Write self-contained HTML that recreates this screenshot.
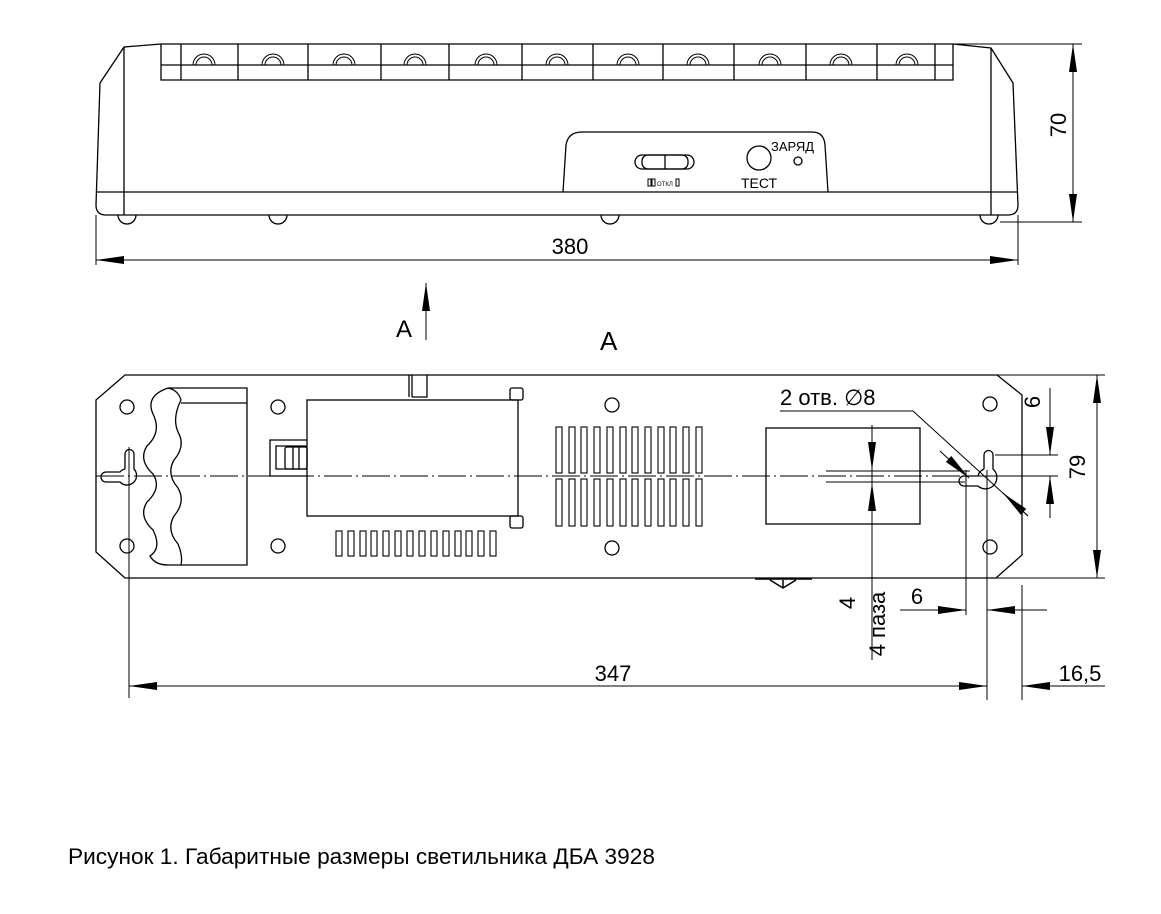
<!DOCTYPE html>
<html><head><meta charset="utf-8"><style>
html,body{margin:0;padding:0;background:#fff;}
svg{display:block;}
text{font-family:"Liberation Sans","DejaVu Sans",sans-serif;fill:#000;}
</style></head><body>
<svg width="1161" height="914" viewBox="0 0 1161 914" xmlns="http://www.w3.org/2000/svg">
<defs>
<marker id="ar" viewBox="0 0 28 8" refX="28" refY="4" markerWidth="28" markerHeight="8" markerUnits="userSpaceOnUse" orient="auto-start-reverse"><path d="M0,0 L28,4 L0,8 z" fill="#000"/></marker>
</defs>
<g fill="none" stroke="#000" stroke-width="1.3">
<!-- TOP VIEW -->
<path d="M161,44 L953,44"/>
<path d="M161,44 L161,80 L953,80 L953,44"/>
<path d="M161,65 L953,65"/>
<path d="M181,44V80 M238,44V80 M308,44V80 M381,44V80 M449,44V80 M522,44V80 M593,44V80 M663,44V80 M734,44V80 M806,44V80 M877,44V80 M935,44V80"/>
<g stroke-width="1">
<path d="M193,65A11,11 0 0 1 215,65 M196,65A8,8 0 0 1 212,65"/>
<path d="M262,65A11,11 0 0 1 284,65 M265,65A8,8 0 0 1 281,65"/>
<path d="M333,65A11,11 0 0 1 355,65 M336,65A8,8 0 0 1 352,65"/>
<path d="M404,65A11,11 0 0 1 426,65 M407,65A8,8 0 0 1 423,65"/>
<path d="M475,65A11,11 0 0 1 497,65 M478,65A8,8 0 0 1 494,65"/>
<path d="M546,65A11,11 0 0 1 568,65 M549,65A8,8 0 0 1 565,65"/>
<path d="M617,65A11,11 0 0 1 639,65 M620,65A8,8 0 0 1 636,65"/>
<path d="M687,65A11,11 0 0 1 709,65 M690,65A8,8 0 0 1 706,65"/>
<path d="M759,65A11,11 0 0 1 781,65 M762,65A8,8 0 0 1 778,65"/>
<path d="M830,65A11,11 0 0 1 852,65 M833,65A8,8 0 0 1 849,65"/>
<path d="M896,65A11,11 0 0 1 918,65 M899,65A8,8 0 0 1 915,65"/>
</g>
<path d="M161,44 L124,47 L100,83 L96,205 Q96,215 106,215 L1008,215 Q1018,215 1018,205 L1013,83 L991,48 L953,44"/>
<path d="M124,47 V215 M991,48 V215"/>
<path d="M96,192 H1018"/>
<path d="M118,215 A9,9 0 0 0 136,215 M269,215 A9,9 0 0 0 287,215 M601,215 A9,9 0 0 0 619,215 M980,215 A9,9 0 0 0 998,215"/>
<!-- control panel -->
<path d="M563,192 L566,145 Q568,132 582,132 L812,132 Q824,132 825,145 L828,192"/>
<rect x="635" y="155" width="59" height="14" rx="7"/>
<rect x="642" y="155" width="46" height="14" rx="6"/>
<path d="M665,155 V169"/>
<circle cx="759" cy="158" r="12"/>
<circle cx="798" cy="161" r="4"/>
<!-- dims top -->
<g stroke-width="1">
<path d="M950,44 H1082 M1000,222 H1082 M1018,215 V265 M96,215 V265"/>
<path d="M1073,44 V222" marker-start="url(#ar)" marker-end="url(#ar)"/>
<path d="M96,260 H1018" marker-start="url(#ar)" marker-end="url(#ar)"/>
<path d="M426,340 V283" marker-end="url(#ar)"/>
</g>
<!-- BOTTOM VIEW -->
<path d="M125,375 H997 L1022,395 V555 L996,578 H125 L96,552 V400 Z"/>
<g stroke-width="1">
<path d="M996,375 H1105 M996,578 H1105"/>
<path d="M96,476 H1030" stroke-dasharray="28,4,2,4"/>
</g>
<circle cx="127" cy="407" r="7"/><circle cx="127" cy="546" r="7"/>
<circle cx="278" cy="407" r="7"/><circle cx="278" cy="546" r="7"/>
<circle cx="612" cy="405" r="7"/><circle cx="612" cy="548" r="7"/>
<circle cx="990" cy="404" r="7"/><circle cx="990" cy="547" r="7"/>
<!-- left keyhole -->
<path d="M125,469 V454 A4.5,4.5 0 0 1 134,454 V469 A9,9 0 1 1 120,482 L106,482 A5,5 0 0 1 106,472 L120,472 A9,9 0 0 1 125,469"/>
<!-- waves -->
<path d="M168,388 Q145,396 153,414 Q162,432 147,446 Q138,460 153,474 Q162,488 147,502 Q138,516 153,530 Q162,548 150,556 Q155,565 168,565"/>
<path d="M168,388 Q178,390 181,400 Q172,418 178,432 Q186,446 174,460 Q166,474 178,488 Q186,502 174,516 Q166,530 178,544 Q183,556 181,565"/>
<path d="M168,388 H247 V565 H168 M181,403 H247"/>
<!-- battery -->
<rect x="307" y="400" width="211" height="116"/>
<rect x="510" y="388" width="13" height="12" rx="2"/>
<rect x="510" y="516" width="13" height="12" rx="2"/>
<path d="M409,375 V397 M412,375 V397 M412,397 H427 V375"/>
<path d="M307,440 H270 V476 H307 M307,446 H276 V469 H307"/>
<rect x="285" y="447" width="22" height="22" rx="2"/>
<path d="M293,447 V469 M299,447 V469"/>
<g stroke-width="1.1">
<rect x="336" y="531" width="6" height="25"/><rect x="348" y="531" width="6" height="25"/><rect x="360" y="531" width="6" height="25"/><rect x="371" y="531" width="6" height="25"/><rect x="383" y="531" width="6" height="25"/><rect x="395" y="531" width="6" height="25"/><rect x="407" y="531" width="6" height="25"/><rect x="419" y="531" width="6" height="25"/><rect x="431" y="531" width="6" height="25"/><rect x="443" y="531" width="6" height="25"/><rect x="455" y="531" width="6" height="25"/><rect x="466" y="531" width="6" height="25"/><rect x="478" y="531" width="6" height="25"/><rect x="490" y="531" width="6" height="25"/>
<rect x="556" y="427" width="6" height="46"/><rect x="569" y="427" width="6" height="46"/><rect x="581" y="427" width="6" height="46"/><rect x="594" y="427" width="6" height="46"/><rect x="607" y="427" width="6" height="46"/><rect x="620" y="427" width="6" height="46"/><rect x="632" y="427" width="6" height="46"/><rect x="645" y="427" width="6" height="46"/><rect x="658" y="427" width="6" height="46"/><rect x="670" y="427" width="6" height="46"/><rect x="683" y="427" width="6" height="46"/><rect x="696" y="427" width="6" height="46"/>
<rect x="556" y="479" width="6" height="47"/><rect x="569" y="479" width="6" height="47"/><rect x="581" y="479" width="6" height="47"/><rect x="594" y="479" width="6" height="47"/><rect x="607" y="479" width="6" height="47"/><rect x="620" y="479" width="6" height="47"/><rect x="632" y="479" width="6" height="47"/><rect x="645" y="479" width="6" height="47"/><rect x="658" y="479" width="6" height="47"/><rect x="670" y="479" width="6" height="47"/><rect x="683" y="479" width="6" height="47"/><rect x="696" y="479" width="6" height="47"/>
</g>
<rect x="766" y="428" width="154" height="96"/>
<path d="M755,579 H812 M770,580 L783,588 L796,580 M783,580 V588" stroke-width="1.5"/>
<!-- right keyhole -->
<path d="M984,469 V455 A4.5,4.5 0 0 1 993,455 V469 A10,10 0 1 1 978,486 L964,486 A5,5 0 0 1 964,476 L978,476 A10,10 0 0 1 984,469"/>
<g stroke-width="1">
<path d="M826,471 H970 M826,482 H965"/>
<path d="M872,425 V660"/>
<path d="M872,440 V470" marker-end="url(#ar)"/>
<path d="M872,512 V483" marker-end="url(#ar)"/>
<path d="M995,455 H1058 M990,476 H1058"/>
<path d="M1050,388 V455" marker-end="url(#ar)"/>
<path d="M1050,518 V476" marker-end="url(#ar)"/>
<path d="M1097,375 V578" marker-start="url(#ar)" marker-end="url(#ar)"/>
<path d="M780,411 H913 L1028,516"/>
<path d="M940,451 L969,478" marker-end="url(#ar)"/>
<path d="M1028,516 L1003,493" marker-end="url(#ar)"/>
<path d="M966,470 V615 M987,470 V700 M1022,585 V700 M129,447 V698"/>
<path d="M900,610 H966" marker-end="url(#ar)"/>
<path d="M1047,610 H987" marker-end="url(#ar)"/>
<path d="M129,686 H987" marker-start="url(#ar)" marker-end="url(#ar)"/>
<path d="M1105,686 H1022" marker-end="url(#ar)"/>
</g>
</g>
<rect x="648" y="179" width="3" height="7" fill="none" stroke="#000" stroke-width="1"/>
<rect x="652" y="179" width="3" height="7" fill="none" stroke="#000" stroke-width="1"/>
<text x="657" y="186" font-size="6" fill="#555">ОТКЛ</text>
<rect x="676" y="179" width="3" height="7" fill="none" stroke="#000" stroke-width="1"/>
<text x="741" y="188" font-size="14">ТЕСТ</text>
<text x="771" y="151" font-size="13">ЗАРЯД</text>
<text x="1074" y="133" font-size="22" text-anchor="middle" transform="rotate(-90 1066 133)">70</text>
<text x="570" y="254" font-size="22" text-anchor="middle">380</text>
<text x="396" y="337" font-size="24">А</text>
<text x="600" y="350" font-size="26">А</text>
<text x="780" y="405" font-size="22">2 отв. ∅8</text>
<text x="1048" y="410" font-size="22" text-anchor="middle" transform="rotate(-90 1040 410)">6</text>
<text x="1093" y="475" font-size="22" text-anchor="middle" transform="rotate(-90 1085 475)">79</text>
<text x="917" y="604" font-size="22" text-anchor="middle">6</text>
<text x="863" y="611" font-size="22" text-anchor="middle" transform="rotate(-90 855 611)">4</text>
<text x="893" y="632" font-size="22" text-anchor="middle" transform="rotate(-90 885 632)">4 паза</text>
<text x="613" y="681" font-size="22" text-anchor="middle">347</text>
<text x="1080" y="681" font-size="22" text-anchor="middle">16,5</text>
<text x="68" y="864" font-size="22" textLength="587" lengthAdjust="spacingAndGlyphs">Рисунок 1. Габаритные размеры светильника ДБА 3928</text>
</svg>
</body></html>
